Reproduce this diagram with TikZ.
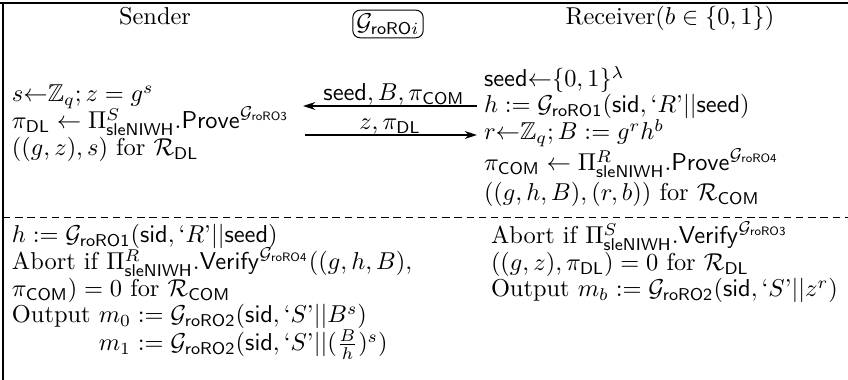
\documentclass[tikz,border=0pt]{standalone}
\usepackage{amsmath,amssymb}
\usetikzlibrary{arrows.meta}
\newcommand{\Gro}[1]{\mathcal{G}_{\mathsf{roRO#1}}}
\newcommand{\myLq}{\textrm{‘}}
\newcommand{\myRq}{\textrm{’}}
\begin{document}
\begin{tikzpicture}[x=0.4098pt,y=-0.4098pt,
  txt/.style={anchor=base west,inner sep=0pt,outer sep=0pt},
  hdr/.style={anchor=base,inner sep=0pt},
  msg/.style={-{Stealth[length=5pt,width=3.2pt]},line width=0.5pt},
  lbl/.style={anchor=base,inner sep=0pt},
  frame/.style={line width=0.7pt},
  sepline/.style={dash pattern=on 3pt off 2pt,line width=0.4pt}]
\useasboundingbox (0,0) rectangle (848,380);
% frame
\coordinate (tl) at (0,3);
\coordinate (tr) at (848,3);
\coordinate (lt) at (3,3);
\coordinate (lb) at (3,380);
\coordinate (dl) at (3,217);
\coordinate (dr) at (848,217);
\draw[frame] (tl) -- (tr);
\draw[frame] (lt) -- (lb);
\draw[sepline] (dl) -- (dr);
% headers
\node[hdr] (snd) at (155,25) {Sender};
\node[draw,rounded corners=3pt,inner sep=1.5pt] (oracle) at (388,24) {$\mathcal{G}_{\mathsf{roRO}i}$};
\node[hdr] (rcv) at (670,25) {Receiver$(b\in\{0,1\})$};
% sender
\node[txt] (s1) at (12,102) {$s{\leftarrow}\mathbb{Z}_q; z = g^s$};
\node[txt] (s2) at (12,129) {$\pi_{\mathsf{DL}} \leftarrow \Pi^{S}_{\mathsf{sleNIWH}}.\mathsf{Prove}^{\Gro{3}}$};
\node[txt] (s3) at (12,156) {$((g,z),s)$ for $\mathcal{R}_{\mathsf{DL}}$};
% receiver
\node[txt] (r1) at (484,87) {$\mathsf{seed}{\leftarrow}\{0,1\}^{\lambda}$};
\node[txt] (r2) at (484,113) {$h := \Gro{1}(\mathsf{sid}, \myLq R\myRq||\mathsf{seed})$};
\node[txt] (r3) at (484,140) {$r{\leftarrow}\mathbb{Z}_q; B := g^r h^b$};
\node[txt] (r4) at (484,171) {$\pi_{\mathsf{COM}} \leftarrow \Pi^{R}_{\mathsf{sleNIWH}}.\mathsf{Prove}^{\Gro{4}}$};
\node[txt] (r5) at (484,201) {$((g,h,B),(r,b))$ for $\mathcal{R}_{\mathsf{COM}}$};
% messages
\coordinate (m1r) at (477,106);
\coordinate (m1l) at (303,106);
\coordinate (m2l) at (305,135);
\coordinate (m2r) at (477,135);
\draw[msg] (m1r) -- (m1l);
\draw[msg] (m2l) -- (m2r);
\node[lbl] (lab1) at (394,101) {$\mathsf{seed}, B, \pi_{\mathsf{COM}}$};
\node[lbl] (lab2) at (390,130) {$z, \pi_{\mathsf{DL}}$};
% bottom left
\node[txt] (b1) at (12,243) {$h := \Gro{1}(\mathsf{sid}, \myLq R\myRq||\mathsf{seed})$};
\node[txt] (b2) at (12,270) {Abort if $\Pi^{R}_{\mathsf{sleNIWH}}.\mathsf{Verify}^{\Gro{4}}((g,h,B),$};
\node[txt] (b3) at (12,297) {$\pi_{\mathsf{COM}}) = 0$ for $\mathcal{R}_{\mathsf{COM}}$};
\node[txt] (b4) at (12,323) {Output $m_0 := \Gro{2}(\mathsf{sid}, \myLq S\myRq||B^s)$};
\node[txt] (b5) at (12,351) {\phantom{Output} $m_1 := \Gro{2}(\mathsf{sid}, \myLq S\myRq||(\frac{B}{h})^s)$};
% bottom right
\node[txt] (c1) at (491,244) {Abort if $\Pi^{S}_{\mathsf{sleNIWH}}.\mathsf{Verify}^{\Gro{3}}$};
\node[txt] (c2) at (491,271) {$((g,z),\pi_{\mathsf{DL}}) = 0$ for $\mathcal{R}_{\mathsf{DL}}$};
\node[txt] (c3) at (491,297) {Output $m_b := \Gro{2}(\mathsf{sid}, \myLq S\myRq||z^r)$};
\end{tikzpicture}
\end{document}
